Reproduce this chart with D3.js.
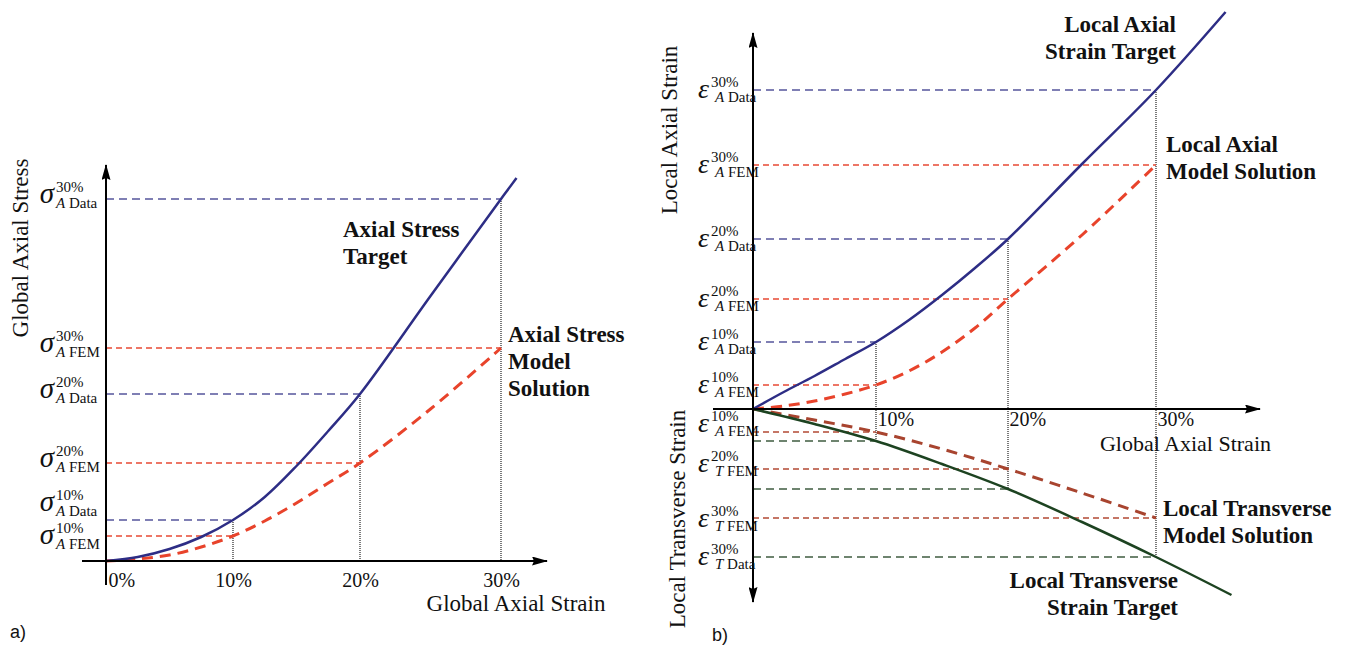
<!DOCTYPE html>
<html>
<head>
<meta charset="utf-8">
<script src="https://cdn.jsdelivr.net/npm/d3@7/dist/d3.min.js"></script>
<style>
    body { margin: 0; background: #fff; }
    svg text { font-family: 'Liberation Serif', 'Times New Roman', serif; fill: #111; }
</style>
</head>
<body>
<script>
// 应变刻度 (%)
const strainTicks = [0, 10, 20, 30];
const strainTickLabels = ['0%', '10%', '20%', '30%'];
const guideStrains = [10, 20, 30];
const guideSups = ['10%', '20%', '30%'];

// a) 全局轴向应力 (任意单位)
const stressStrain = [0, 2.5, 5, 7.5, 10, 12.5, 15, 17.5, 20, 25, 30, 31.1];
const stressTarget = [0, 4, 12, 24, 41, 64, 95, 130, 167, 265, 362, 383];
const stressModelStrain = [0, 2.5, 5, 7.5, 10, 12.5, 15, 17.5, 20, 25, 30];
const stressModel = [0, 2, 6, 14, 25, 40, 58, 78, 98, 152, 213];
const stressData = [41, 167, 362];
const stressFem = [25, 98, 213];

// b) 局部轴向 / 横向应变
const axialStrain = [0, 2.5, 5, 7.5, 10, 12.5, 15, 17.5, 20, 25, 30, 34.7];
const axialTarget = [0, 17, 33, 50, 67, 89, 114, 141, 170, 245, 319, 397];
const axialModelStrain = [0, 2.5, 5, 7.5, 10, 12.5, 15, 17.5, 20, 25, 30];
const axialModel = [0, 3, 8, 15, 24, 38, 57, 81, 110, 174, 244];
const axialData = [67, 170, 319];
const axialFem = [24, 110, 244];

const transStrain = [0, 5, 10, 15, 20, 25, 30, 35.1];
const transTarget = [0, -15, -32, -55, -80, -113, -148, -186];
const transModelStrain = [0, 5, 10, 15, 20, 25, 30];
const transModel = [0, -11, -23, -40, -60, -84, -109];
const transData = [-32, -80, -148];
const transFem = [-23, -60, -109];

// 横向标签 (原图 10% 处写作 A FEM)
const transFemLetters = ['A', 'T', 'T'];

// 颜色
const colors = {
    target: '#2d2d85',
    model: '#e8432b',
    dataGuide: '#55559c',
    femGuide: '#e84a35',
    transTarget: '#1d4321',
    transModel: '#a8442f',
    transDataGuide: '#3f5c40',
    transFemGuide: '#b34a35'
};

const svg = d3.select('body')
    .append('svg')
    .attr('width', 1349)
    .attr('height', 649);

// 箭头
svg.append('defs')
    .append('marker')
    .attr('id', 'arrow')
    .attr('viewBox', '0 0 16 9')
    .attr('refX', 15)
    .attr('refY', 4.5)
    .attr('markerWidth', 16)
    .attr('markerHeight', 9)
    .attr('markerUnits', 'userSpaceOnUse')
    .attr('orient', 'auto')
    .append('path')
    .attr('d', 'M0,0 L16,4.5 L0,9 L2,4.5 Z')
    .attr('fill', '#000');

// 比例尺
const xA = d3.scaleLinear().domain(strainTicks).range([106, 233, 360, 501]);
const yA = d3.scaleLinear().domain([0, 396]).range([561, 165]);
const xB = d3.scaleLinear().domain(strainTicks).range([753, 876, 1008, 1156]);
const yB = d3.scaleLinear().domain([-193, 376]).range([602, 33]);

const zip = (xs, ys) => xs.map((x, i) => [x, ys[i]]);

function line(x, y) {
    return d3.line()
        .x(d => x(d[0]))
        .y(d => y(d[1]))
        .curve(d3.curveCatmullRom.alpha(0.5));
}

function guide(g, x, y, strain, val, color, dash) {
    g.append('line')
        .attr('x1', x(0)).attr('x2', x(strain))
        .attr('y1', y(val)).attr('y2', y(val))
        .attr('stroke', color)
        .attr('stroke-width', 1.6)
        .attr('stroke-dasharray', dash);
}

function vdot(g, x, y, strain, v1, v2) {
    g.append('line')
        .attr('x1', x(strain)).attr('x2', x(strain))
        .attr('y1', y(v1)).attr('y2', y(v2))
        .attr('stroke', '#222')
        .attr('stroke-width', 1.2)
        .attr('stroke-dasharray', '1,1');
}

function curve(g, pts, x, y, color, width, dash) {
    g.append('path')
        .attr('d', line(x, y)(pts))
        .attr('fill', 'none')
        .attr('stroke', color)
        .attr('stroke-width', width)
        .attr('stroke-dasharray', dash || null);
}

// 符号标签: 符号 + 上标 + 下标
function symLabel(g, sym, symEnd, yPix, sup, letter, sub, o) {
    g.append('text')
        .attr('x', symEnd).attr('y', yPix + o.sym)
        .attr('text-anchor', 'end')
        .attr('font-size', o.size)
        .attr('font-style', 'italic')
        .text(sym);
    g.append('text')
        .attr('x', symEnd + o.supDx).attr('y', yPix + o.sup)
        .attr('font-size', 15)
        .text(sup);
    const t = g.append('text')
        .attr('x', symEnd + o.subDx).attr('y', yPix + o.sub)
        .attr('font-size', 15);
    t.append('tspan').attr('font-style', 'italic').text(letter);
    t.append('tspan').text(' ' + sub);
}

const shift = (o, n) => Object.assign({}, o, { sym: o.sym + n, sup: o.sup + n, sub: o.sub + n });

function boldText(g, lines, x, y0, anchor) {
    lines.forEach((s, i) => {
        g.append('text')
            .attr('x', x).attr('y', y0 + i * 27)
            .attr('text-anchor', anchor)
            .attr('font-size', 23)
            .attr('font-weight', 'bold')
            .text(s);
    });
}

// ================= a) =================
const ga = svg.append('g');

guideStrains.forEach((s, i) => {
    vdot(ga, xA, yA, s, stressData[i], 0);
    guide(ga, xA, yA, s, stressData[i], colors.dataGuide, '8,5');
    guide(ga, xA, yA, s, stressFem[i], colors.femGuide, '6,4');
});

curve(ga, zip(stressModelStrain, stressModel), xA, yA, colors.model, 3, '11,7');
curve(ga, zip(stressStrain, stressTarget), xA, yA, colors.target, 2.5);

// 坐标轴
ga.append('line')
    .attr('x1', 82).attr('x2', 547)
    .attr('y1', yA(0)).attr('y2', yA(0))
    .attr('stroke', '#000').attr('stroke-width', 2)
    .attr('marker-end', 'url(#arrow)');
ga.append('line')
    .attr('x1', xA(0)).attr('x2', xA(0))
    .attr('y1', yA(-24)).attr('y2', yA(396))
    .attr('stroke', '#000').attr('stroke-width', 2)
    .attr('marker-end', 'url(#arrow)');

const axisA = ga.append('g')
    .attr('transform', 'translate(0,' + yA(0) + ')')
    .call(d3.axisBottom(xA)
        .tickValues(strainTicks)
        .tickFormat((d, i) => strainTickLabels[i])
        .tickSize(0));
axisA.select('.domain').remove();
axisA.selectAll('text')
    .attr('font-family', null)
    .attr('font-size', 20)
    .attr('y', 26)
    .attr('dy', 0)
    .attr('x', (d, i) => i === 0 ? 2 : 0)
    .attr('text-anchor', (d, i) => i === 0 ? 'start' : 'middle')
    .style('font-family', "'Liberation Serif', serif")
    .style('fill', '#111');

// σ 标签
const nudgeA = { data: [-13, 0, 0], fem: [4, 0, 0] };
const oA = { size: 29, sym: 4, sup: -7, sub: 9, supDx: 2, subDx: 2 };
guideStrains.forEach((s, i) => {
    symLabel(ga, 'σ', 54, yA(stressData[i]), guideSups[i], 'A', 'Data', shift(oA, nudgeA.data[i]));
    symLabel(ga, 'σ', 54, yA(stressFem[i]), guideSups[i], 'A', 'FEM', shift(oA, nudgeA.fem[i]));
});

ga.append('text')
    .attr('transform', 'translate(28,248) rotate(-90)')
    .attr('text-anchor', 'middle')
    .attr('font-size', 23)
    .text('Global Axial Stress');
ga.append('text')
    .attr('x', 516).attr('y', 611)
    .attr('text-anchor', 'middle')
    .attr('font-size', 23)
    .text('Global Axial Strain');

boldText(ga, ['Axial Stress', 'Target'], 343, 237, 'start');
boldText(ga, ['Axial Stress', 'Model', 'Solution'], xA(30) + 7, 342, 'start');

ga.append('text')
    .attr('x', 10).attr('y', 638)
    .attr('font-size', 18)
    .style('font-family', "'Liberation Sans', Arial, sans-serif")
    .text('a)');

// ================= b) =================
const gb = svg.append('g');

guideStrains.forEach((s, i) => {
    vdot(gb, xB, yB, s, axialData[i], transData[i]);
    guide(gb, xB, yB, s, axialData[i], colors.dataGuide, '8,5');
    guide(gb, xB, yB, s, axialFem[i], colors.femGuide, '6,4');
    guide(gb, xB, yB, s, transData[i], colors.transDataGuide, '8,5');
    guide(gb, xB, yB, s, transFem[i], colors.transFemGuide, '6,4');
});

curve(gb, zip(axialModelStrain, axialModel), xB, yB, colors.model, 3, '11,7');
curve(gb, zip(transModelStrain, transModel), xB, yB, colors.transModel, 3, '11,7');
curve(gb, zip(axialStrain, axialTarget), xB, yB, colors.target, 2.5);
curve(gb, zip(transStrain, transTarget), xB, yB, colors.transTarget, 2.5);

gb.append('line')
    .attr('x1', 713).attr('x2', 1260)
    .attr('y1', yB(0)).attr('y2', yB(0))
    .attr('stroke', '#000').attr('stroke-width', 2)
    .attr('marker-end', 'url(#arrow)');
gb.append('line')
    .attr('x1', xB(0)).attr('x2', xB(0))
    .attr('y1', yB(0)).attr('y2', yB(376))
    .attr('stroke', '#000').attr('stroke-width', 2)
    .attr('marker-end', 'url(#arrow)');
gb.append('line')
    .attr('x1', xB(0)).attr('x2', xB(0))
    .attr('y1', yB(0)).attr('y2', yB(-193))
    .attr('stroke', '#000').attr('stroke-width', 2)
    .attr('marker-end', 'url(#arrow)');

const axisB = gb.append('g')
    .attr('transform', 'translate(0,' + yB(0) + ')')
    .call(d3.axisBottom(xB)
        .tickValues(guideStrains)
        .tickFormat(d => strainTickLabels[strainTicks.indexOf(d)])
        .tickSize(0));
axisB.select('.domain').remove();
axisB.selectAll('text')
    .attr('font-family', null)
    .attr('font-size', 20)
    .attr('y', 17)
    .attr('dy', 0)
    .attr('x', 1)
    .attr('text-anchor', 'start')
    .style('font-family', "'Liberation Serif', serif")
    .style('fill', '#111');

// ε 标签
const oB = { size: 28, sym: 8, sup: -3, sub: 12, supDx: 2, subDx: 6 };
guideStrains.forEach((s, i) => {
    symLabel(gb, 'ε', 709, yB(axialData[i]), guideSups[i], 'A', 'Data', oB);
    symLabel(gb, 'ε', 709, yB(axialFem[i]), guideSups[i], 'A', 'FEM', oB);
});
const nudgeT = [-8, -5, 1];
guideStrains.forEach((s, i) => {
    symLabel(gb, 'ε', 709, yB(transFem[i]), guideSups[i], transFemLetters[i], 'FEM', shift(oB, nudgeT[i]));
});
symLabel(gb, 'ε', 709, yB(transData[2]), guideSups[2], 'T', 'Data', oB);

gb.append('text')
    .attr('transform', 'translate(677,130) rotate(-90)')
    .attr('text-anchor', 'middle')
    .attr('font-size', 23)
    .text('Local Axial Strain');
gb.append('text')
    .attr('transform', 'translate(685,519) rotate(-90)')
    .attr('text-anchor', 'middle')
    .attr('font-size', 23)
    .text('Local Transverse Strain');
gb.append('text')
    .attr('x', 1271).attr('y', 451)
    .attr('text-anchor', 'end')
    .attr('font-size', 22)
    .text('Global Axial Strain');

boldText(gb, ['Local Axial', 'Strain Target'], 1176, 32, 'end');
boldText(gb, ['Local Axial', 'Model Solution'], xB(30) + 10, 152, 'start');
boldText(gb, ['Local Transverse', 'Model Solution'], xB(30) + 7, 516, 'start');
boldText(gb, ['Local Transverse', 'Strain Target'], 1178, 588, 'end');

gb.append('text')
    .attr('x', 712).attr('y', 641)
    .attr('font-size', 18)
    .style('font-family', "'Liberation Sans', Arial, sans-serif")
    .text('b)');
</script>
</body>
</html>
